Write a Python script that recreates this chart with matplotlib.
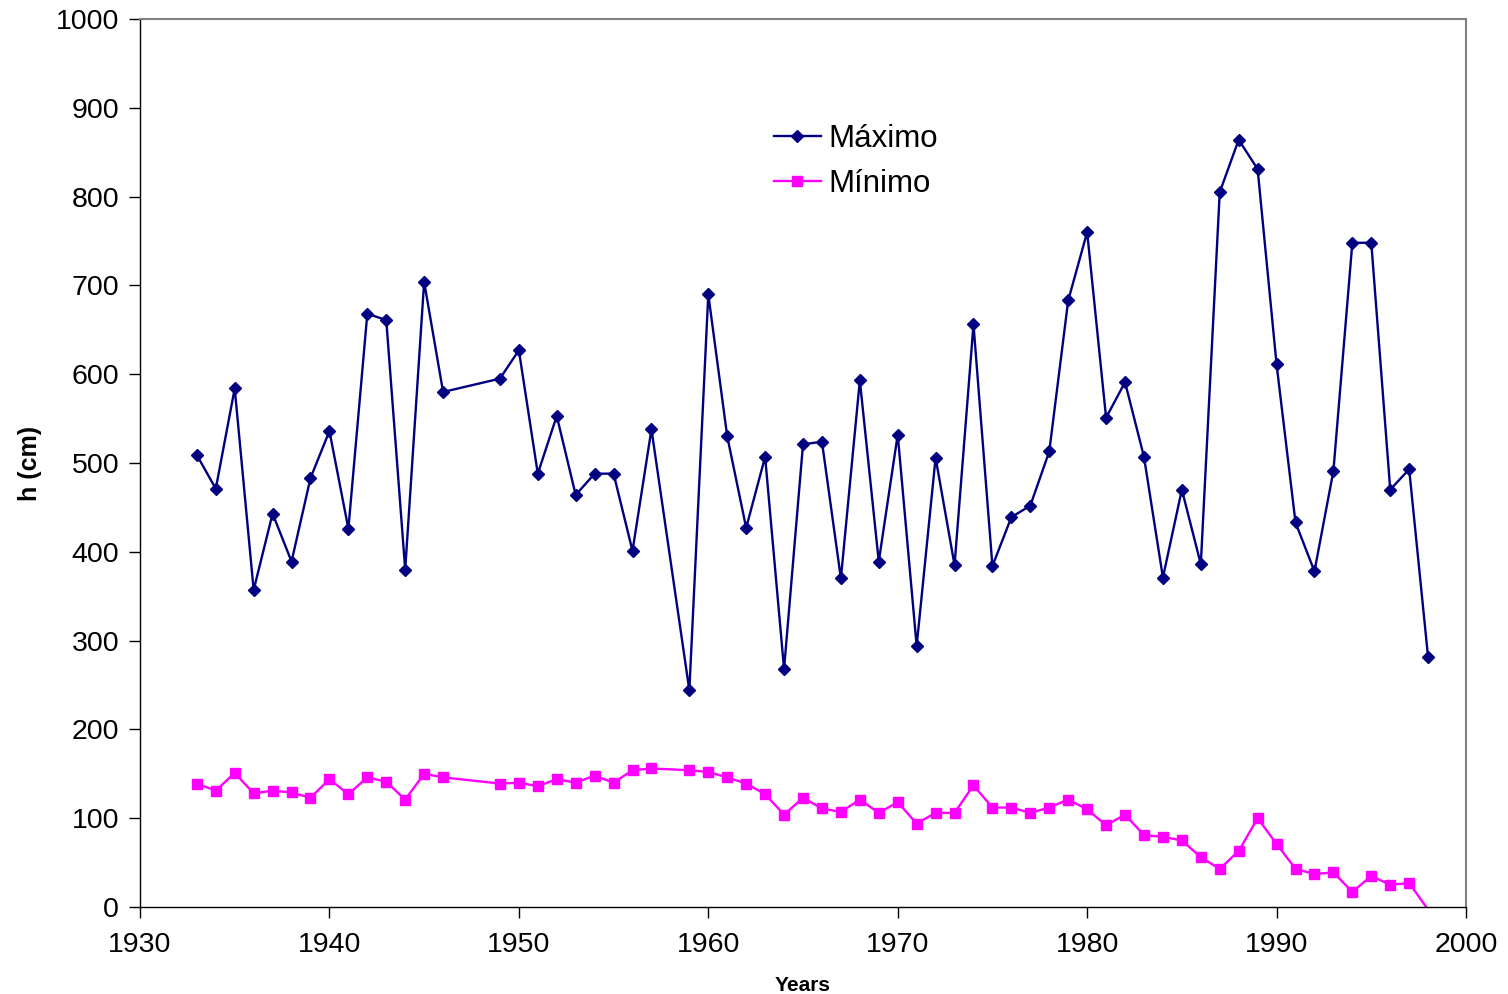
import numpy as np
import matplotlib
matplotlib.use("Agg")
import matplotlib.pyplot as plt

plt.rcParams['font.family'] = ['Liberation Sans', 'DejaVu Sans']

years = [1933, 1934, 1935, 1936, 1937, 1938, 1939, 1940, 1941, 1942, 1943, 1944,
         1945, 1946, 1949, 1950, 1951, 1952, 1953, 1954, 1955, 1956, 1957,
         1959, 1960, 1961, 1962, 1963, 1964, 1965, 1966, 1967, 1968, 1969, 1970,
         1971, 1972, 1973, 1974, 1975, 1976, 1977, 1978, 1979, 1980, 1981, 1982,
         1983, 1984, 1985, 1986, 1987, 1988, 1989, 1990, 1991, 1992, 1993, 1994,
         1995, 1996, 1997, 1998]

maximo = [509, 471, 584, 357, 443, 389, 483, 536, 426, 668, 661, 380,
          704, 580, 595, 627, 488, 553, 464, 488, 488, 401, 538,
          244, 690, 530, 427, 507, 268, 521, 524, 370, 593, 389, 532,
          294, 506, 385, 656, 384, 439, 452, 513, 683, 760, 551, 591,
          507, 371, 470, 386, 805, 864, 831, 611, 433, 378, 491, 748,
          748, 470, 493, 281]

minimo = [139, 131, 151, 128, 131, 129, 123, 144, 127, 146, 141, 121,
          150, 146, 139, 140, 136, 144, 140, 148, 140, 154, 156,
          154, 152, 146, 139, 127, 104, 123, 111, 107, 121, 106, 118,
          94, 106, 106, 137, 112, 112, 106, 112, 121, 110, 92, 104,
          81, 79, 75, 56, 43, 63, 100, 71, 43, 37, 39, 17,
          35, 25, 27, -3]

xticks = [1930, 1940, 1950, 1960, 1970, 1980, 1990, 2000]
yticks = [0, 100, 200, 300, 400, 500, 600, 700, 800, 900, 1000]

fig = plt.figure(figsize=(15.08, 9.94), dpi=100)
ax = fig.add_axes([140/1508, 1 - 907/994, (1466-140)/1508, (907-19)/994])

ax.plot(years, maximo, color='#000080', lw=1.7, marker='D', markersize=6.0,
        markerfacecolor='#000080', markeredgecolor='#000080', label='Máximo')
vis = [i for i, v in enumerate(minimo) if v >= 0]
ax.plot(years, minimo, color='#FF00FF', lw=1.7, marker='s', markersize=7.0,
        markerfacecolor='#FF00FF', markeredgecolor='#FF00FF', markevery=vis,
        label='Mínimo')

ax.set_xlim(1930, 2000)
ax.set_ylim(0, 1000)
ax.set_xticks(xticks)
ax.set_yticks(yticks)
ax.tick_params(axis='both', direction='out', length=8, width=1, labelsize=20.5,
               color='black')
ax.tick_params(axis='x', pad=10)
ax.tick_params(axis='y', pad=7)

for side in ['left', 'bottom']:
    ax.spines[side].set_color('black')
    ax.spines[side].set_linewidth(1.0)
for side in ['top', 'right']:
    ax.spines[side].set_color('#808080')
    ax.spines[side].set_linewidth(1.5)

ax.set_ylabel('h (cm)', fontsize=18, fontweight='bold', labelpad=10)
ax.set_xlabel('Years', fontsize=15, fontweight='bold', labelpad=13)

leg = ax.legend(loc='upper left', bbox_to_anchor=(774/1508, 1 - 124/994),
                bbox_transform=fig.transFigure, frameon=False, fontsize=22.5,
                handlelength=1.5, handletextpad=0.25, labelspacing=0.47,
                borderpad=0, borderaxespad=0)

fig.savefig('out.png', dpi=100, facecolor='white')
